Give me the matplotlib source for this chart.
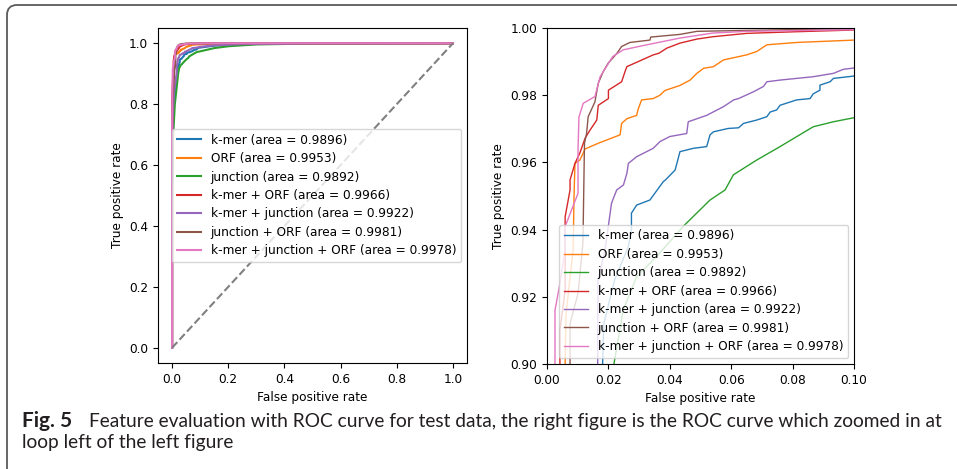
import matplotlib

matplotlib.use("Agg")

import matplotlib.pyplot as plt
from matplotlib.patches import FancyBboxPatch

# ROC points (false positive rate, true positive rate)
KMER_FPR = [0, 0, 0.002, 0.008, 0.0181, 0.0185, 0.022, 0.0265, 0.0275, 0.0275,
            0.0292, 0.0335, 0.0379, 0.0386, 0.0417, 0.0423, 0.0433, 0.0477, 0.052, 0.0531,
            0.0542, 0.059, 0.0624, 0.064, 0.0683, 0.0716, 0.0727, 0.0748, 0.0759, 0.0813,
            0.0857, 0.0867, 0.0889, 0.0889, 0.0922, 0.0933, 0.1, 0.15, 0.2, 0.3, 0.5, 1.0]
KMER_TPR = [0, 0.5, 0.7, 0.82, 0.90, 0.912, 0.925, 0.935, 0.940, 0.9449,
            0.9473, 0.9488, 0.9543, 0.9548, 0.9577, 0.9597, 0.9632, 0.9642, 0.9647, 0.9682,
            0.9691, 0.9701, 0.9703, 0.9716, 0.9726, 0.9736, 0.975, 0.9756, 0.977, 0.9786,
            0.979, 0.9804, 0.9815, 0.983, 0.984, 0.985, 0.9857, 0.992, 0.995, 0.998, 0.9995, 1.0]

ORF_FPR = [0, 0, 0.001, 0.0059, 0.0062, 0.0085, 0.0088, 0.0091, 0.0107, 0.0118,
           0.0124, 0.0167, 0.0238, 0.0243, 0.026, 0.0292, 0.0296, 0.0308, 0.0346, 0.0368,
           0.0384, 0.0433, 0.0466, 0.0488, 0.051, 0.0542, 0.0575, 0.065, 0.0683, 0.0716,
           0.0814, 0.1, 0.15, 0.3, 1.0]
ORF_TPR = [0, 0.6, 0.8, 0.90, 0.915, 0.934, 0.950, 0.9597, 0.9607, 0.9628,
           0.964, 0.9657, 0.9682, 0.9716, 0.973, 0.974, 0.9756, 0.9786, 0.979, 0.980,
           0.9814, 0.9829, 0.9845, 0.9865, 0.988, 0.9885, 0.9905, 0.992, 0.993, 0.995,
           0.9957, 0.9964, 0.998, 0.9995, 1.0]

JUNC_FPR = [0, 0, 0.003, 0.01, 0.0218, 0.0248, 0.0292, 0.0357, 0.0444, 0.0531,
            0.058, 0.0607, 0.0683, 0.0759, 0.0867, 0.0933, 0.1, 0.15, 0.2, 0.3, 0.5, 1.0]
JUNC_TPR = [0, 0.45, 0.68, 0.80, 0.90, 0.916, 0.926, 0.932, 0.941, 0.9488,
            0.9518, 0.9563, 0.9607, 0.9647, 0.9706, 0.9721, 0.9733, 0.984, 0.99, 0.996, 0.999, 1.0]

KMER_ORF_FPR = [0, 0, 0.001, 0.0042, 0.0042, 0.0059, 0.0059, 0.0075, 0.0075, 0.0091,
                0.0107, 0.0124, 0.014, 0.0162, 0.0167, 0.02, 0.02, 0.0243, 0.0254, 0.026,
                0.0297, 0.0346, 0.0365, 0.039, 0.0433, 0.0488, 0.054, 0.065, 0.0814, 0.1, 0.2, 1.0]
KMER_ORF_TPR = [0, 0.62, 0.82, 0.90, 0.91, 0.922, 0.9438, 0.9518, 0.9548, 0.9597,
                0.9628, 0.9672, 0.9696, 0.9726, 0.977, 0.979, 0.9815, 0.984, 0.987, 0.9885,
                0.990, 0.992, 0.9925, 0.994, 0.9955, 0.9967, 0.9974, 0.9984, 0.9989, 0.9994, 0.9999, 1.0]

KMER_JUNC_FPR = [0, 0, 0.002, 0.007, 0.0165, 0.0166, 0.0189, 0.021, 0.0214, 0.0227,
                 0.0249, 0.026, 0.0265, 0.0292, 0.0346, 0.0368, 0.04, 0.0455, 0.046, 0.052,
                 0.0575, 0.0608, 0.0624, 0.0672, 0.0705, 0.0716, 0.0759, 0.0813, 0.0867, 0.0933,
                 0.0965, 0.1, 0.15, 0.25, 0.5, 1.0]
KMER_JUNC_TPR = [0, 0.55, 0.75, 0.84, 0.90, 0.925, 0.934, 0.9478, 0.9488, 0.9518,
                 0.9533, 0.9567, 0.9597, 0.9617, 0.9642, 0.9662, 0.9677, 0.9686, 0.9721, 0.974,
                 0.9766, 0.9786, 0.979, 0.981, 0.9826, 0.984, 0.9845, 0.985, 0.9855, 0.9865,
                 0.9877, 0.9881, 0.993, 0.997, 0.9995, 1.0]

JUNC_ORF_FPR = [0, 0, 0.001, 0.0075, 0.0075, 0.0101, 0.0117, 0.0122, 0.0129, 0.0134,
                0.0156, 0.0167, 0.0183, 0.0199, 0.0228, 0.0243, 0.027, 0.0335, 0.0338, 0.0433,
                0.0488, 0.054, 0.1, 0.2, 1.0]
JUNC_ORF_TPR = [0, 0.6, 0.8, 0.90, 0.912, 0.921, 0.936, 0.9657, 0.9687, 0.9736,
                0.978, 0.9836, 0.987, 0.9895, 0.9925, 0.9945, 0.9957, 0.9964, 0.9973, 0.9981,
                0.999, 0.9991, 0.99985, 1.0, 1.0]

ALL_FPR = [0, 0, 0.001, 0.0026, 0.0026, 0.0042, 0.0059, 0.0059, 0.0101, 0.0101,
           0.0104, 0.0118, 0.0156, 0.0173, 0.0214, 0.0248, 0.0325, 0.0433, 0.054, 0.065,
           0.1, 0.2, 1.0]
ALL_TPR = [0, 0.72, 0.85, 0.90, 0.916, 0.924, 0.934, 0.9409, 0.9508, 0.9637,
           0.9735, 0.9776, 0.9796, 0.9855, 0.9915, 0.9935, 0.995, 0.997, 0.9985, 0.999,
           0.9995, 1.0, 1.0]

NAMES = ["k-mer", "ORF", "junction", "k-mer + ORF", "k-mer + junction",
         "junction + ORF", "k-mer + junction + ORF"]
AREAS = [0.9896, 0.9953, 0.9892, 0.9966, 0.9922, 0.9981, 0.9978]

CAPTION_BOLD = "Fig. 5"
CAPTION_LINE1 = ("Feature evaluation with ROC curve for test data, the right figure "
                 "is the ROC curve which zoomed in at")
CAPTION_LINE2 = "loop left of the left figure"

curves = [
    (KMER_FPR, KMER_TPR),
    (ORF_FPR, ORF_TPR),
    (JUNC_FPR, JUNC_TPR),
    (KMER_ORF_FPR, KMER_ORF_TPR),
    (KMER_JUNC_FPR, KMER_JUNC_TPR),
    (JUNC_ORF_FPR, JUNC_ORF_TPR),
    (ALL_FPR, ALL_TPR),
]

plt.rcParams["font.size"] = 8.7
plt.rcParams["legend.labelspacing"] = 0.45

fig = plt.figure(figsize=(9.57, 4.69), dpi=100)

# rounded frame around the figure panel (top and left edges visible)
frame = FancyBboxPatch(
    (0.07, -0.3), 12.0, 4.94,
    boxstyle="round,pad=0,rounding_size=0.1",
    transform=fig.dpi_scale_trans,
    facecolor="none", edgecolor="#5a5a5a", linewidth=1.3,
)
fig.patches.append(frame)

ax_full = fig.add_axes([0.1651, 0.226, 0.3229, 0.7143])
ax_zoom = fig.add_axes([0.5716, 0.2239, 0.3208, 0.7164])

for (fpr, tpr), name, area in zip(curves, NAMES, AREAS):
    label = f"{name} (area = {area:.4f})"
    ax_full.plot(fpr, tpr, linewidth=1.5, label=label)
    ax_zoom.plot(fpr, tpr, linewidth=1.0, label=label)

ax_full.plot([0, 1], [0, 1], linestyle="--", color="gray", linewidth=1.5)

ax_full.set_xlabel("False positive rate")
ax_full.set_ylabel("True positive rate")
ax_full.legend(loc="center right")

ax_zoom.set_xlim(0, 0.1)
ax_zoom.set_ylim(0.9, 1.0)
ax_zoom.set_xlabel("False positive rate")
ax_zoom.set_ylabel("True positive rate")
ax_zoom.legend(loc="lower right")

caption_font = dict(family=["Lato", "DejaVu Sans"], color="#231f20")
fig.text(22 / 957, 1 - 427 / 469, CAPTION_BOLD, fontweight="bold", fontsize=15,
         va="baseline", **caption_font)
fig.text(89 / 957, 1 - 427 / 469, CAPTION_LINE1, fontsize=13.75,
         va="baseline", **caption_font)
fig.text(22 / 957, 1 - 448 / 469, CAPTION_LINE2, fontsize=13.75,
         va="baseline", **caption_font)

fig.savefig("out.png", dpi=100)
